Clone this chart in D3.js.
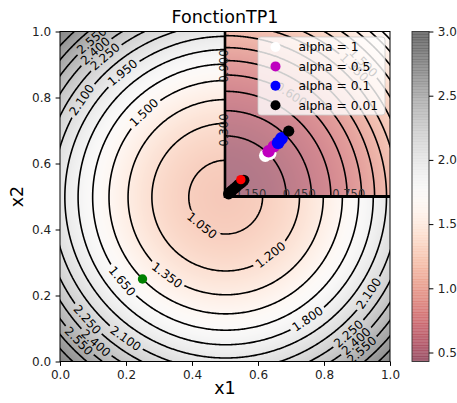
<!DOCTYPE html>
<html>
<head>
<meta charset="utf-8">
<script src="https://cdn.jsdelivr.net/npm/d3@7"></script>
<style>
  body { margin: 0; background: #fff; }
  svg { display: block; font-family: "DejaVu Sans", sans-serif; }
</style>
</head>
<body>
<div id="chart"></div>
<script>
// ---- data ----
const mainLevels = [1.05, 1.2, 1.35, 1.5, 1.65, 1.8, 1.95, 2.1, 2.25, 2.4, 2.55, 2.7, 2.85];
const insetLevels = [0.15, 0.3, 0.45, 0.6, 0.75, 0.9, 1.05, 1.2, 1.35, 1.5, 1.65, 1.8, 1.95, 2.1];
const axisTicks = [0, 0.2, 0.4, 0.6, 0.8, 1.0];
const cbarTicks = [0.5, 1.0, 1.5, 2.0, 2.5, 3.0];
const cbarRange = [0.43, 3.0];
const insetTickX = [0.15, 0.45, 0.75];
const insetTickY = ["0.300", "0.900"];

// function drawn in the main axes: f = base + k * dist^2 to the centre
const fCentre = [0.5, 0.5], fBase = 1.0, fK = 4.0;
// function drawn in the inset: g = k * (u^2 + v^2)
const gK = 1.1;

const ptsAlpha1   = [[0.622, 0.624], [0.637, 0.630]];
const ptsAlpha05  = [[0.632, 0.637], [0.648, 0.652]];
const ptsAlpha01  = [[0.661, 0.663], [0.671, 0.676]];
const ptsAlpha001 = [[0.511, 0.508], [0.516, 0.514], [0.522, 0.519], [0.528, 0.524], [0.534, 0.529],
                     [0.540, 0.535], [0.546, 0.539], [0.552, 0.544], [0.557, 0.549], [0.693, 0.698]];
const ptsRed   = [[0.548, 0.551]];
const ptsGreen = [[0.25, 0.25]];

const legendNames = ["alpha = 1", "alpha = 0.5", "alpha = 0.1", "alpha = 0.01"];
const legendColors = ["#ffffff", "#bf00bf", "#0000ff", "#000000"];

// label placement (level, angle in degrees around the minimum)
const mainLabelAt = [
  [2.55, 130.5], [2.4, 131.7], [2.25, 130.6], [2.1, 146], [1.95, 129.6], [1.5, 134],
  [1.65, 219.5], [1.35, 233.6], [1.05, 231.5], [2.25, 221.8], [2.4, 228.6], [2.55, 224.7], [2.1, 235],
  [1.2, -52], [1.8, -56], [2.1, -34], [2.25, -48], [2.4, -47.8], [2.55, -48.3]
];
const insetLabelAt = [[0.6, 57], [1.35, 45], [1.5, 44]];

const W = 457, H = 403;
const alpha = 0.53;
const mainCmap = [0.2, 3.0];
const insetCmap = [0.0, 4.0];

const x = d3.scaleLinear().domain([0, 1]).range([60, 390]);
const y = d3.scaleLinear().domain([0, 1]).range([361.5, 31.5]);
const ix = d3.scaleLinear().domain([0, 1]).range([x(0.5), x(1)]);
const iy = d3.scaleLinear().domain([0, 1]).range([y(0.5), y(1)]);
const cb = d3.scaleLinear().domain(cbarRange).range([361.5, 31.5]);

const f = (a, b) => fBase + fK * ((a - fCentre[0]) ** 2 + (b - fCentre[1]) ** 2);
const g = (u, v) => gK * (u * u + v * v);
const gImg = (u, v) => u * u + v * v;

function blend(c) {
  const r = d3.rgb(c);
  return [r.r * alpha + 255 * (1 - alpha), r.g * alpha + 255 * (1 - alpha), r.b * alpha + 255 * (1 - alpha)];
}

const svg = d3.select("#chart").append("svg").attr("width", W).attr("height", H);
const defs = svg.append("defs");

function heatImage(fn, dom, xs, ys) {
  const tOf = d3.scaleLinear().domain(dom).range([0, 1]).clamp(true);
  const x0 = Math.min(...xs.range()), x1 = Math.max(...xs.range());
  const y0 = Math.min(...ys.range()), y1 = Math.max(...ys.range());
  const w = Math.round(x1 - x0), h = Math.round(y1 - y0);
  const cv = document.createElement("canvas");
  cv.width = w; cv.height = h;
  const ctx = cv.getContext("2d");
  const img = ctx.createImageData(w, h);
  for (let j = 0; j < h; j++) {
    for (let i = 0; i < w; i++) {
      const v = fn(xs.invert(x0 + (i + 0.5) * (x1 - x0) / w), ys.invert(y0 + (j + 0.5) * (y1 - y0) / h));
      const c = blend(d3.interpolateRdGy(tOf(v)));
      const k = (j * w + i) * 4;
      img.data[k] = c[0]; img.data[k + 1] = c[1]; img.data[k + 2] = c[2]; img.data[k + 3] = 255;
    }
  }
  ctx.putImageData(img, 0, 0);
  svg.append("image").attr("x", x0).attr("y", y0).attr("width", x1 - x0).attr("height", y1 - y0)
    .attr("preserveAspectRatio", "none").attr("href", cv.toDataURL());
}

function contourPaths(fn, levels, xs, ys, clipId, maskId) {
  const n = 260, lo = -0.03, hi = 1.03;
  const vals = new Float64Array(n * n);
  const at = k => lo + (hi - lo) * k / (n - 1);
  for (let j = 0; j < n; j++)
    for (let i = 0; i < n; i++) vals[j * n + i] = fn(at(i), at(n - 1 - j));
  const cs = d3.contours().size([n, n]).thresholds(levels)(vals);
  const path = d3.geoPath(d3.geoTransform({
    point(px, py) { this.stream.point(xs(at(px)), ys(at(n - 1 - py))); }
  }));
  const gC = svg.append("g").attr("clip-path", `url(#${clipId})`)
    .append("g").attr("mask", `url(#${maskId})`);
  gC.selectAll("path").data(cs).join("path")
    .attr("d", path).attr("fill", "none").attr("stroke", "#000").attr("stroke-width", 1.6);
}

function addLabels(list, radiusOf, cx, cy, xs, maskId, clipId) {
  const mask = defs.append("mask").attr("id", maskId).attr("maskUnits", "userSpaceOnUse")
    .attr("x", 0).attr("y", 0).attr("width", W).attr("height", H);
  mask.append("rect").attr("width", W).attr("height", H).attr("fill", "#fff");
  const pxPerUnit = Math.abs(xs(1) - xs(0));
  const items = list.map(([lev, ang]) => {
    const r = radiusOf(lev) * pxPerUnit;
    const a = ang * Math.PI / 180;
    let rot = -(ang + 90);
    rot = ((rot % 360) + 360) % 360;
    if (rot > 90 && rot <= 270) rot -= 180;
    if (rot > 270) rot -= 360;
    return { lev, px: cx + r * Math.cos(a), py: cy - r * Math.sin(a), rot };
  });
  return () => {
    const t = svg.append("g").attr("clip-path", `url(#${clipId})`)
      .selectAll("text").data(items).join("text")
      .attr("transform", d => `translate(${d.px},${d.py}) rotate(${d.rot})`)
      .attr("text-anchor", "middle").attr("dy", "0.36em")
      .attr("font-size", 12).attr("fill", "#000")
      .text(d => d3.format(".3f")(d.lev));
    t.each(function (d) {
      const len = this.getComputedTextLength();
      mask.append("rect").attr("x", -len / 2 - 3).attr("y", -5)
        .attr("width", len + 6).attr("height", 10).attr("fill", "#000")
        .attr("transform", `translate(${d.px},${d.py}) rotate(${d.rot})`);
    });
  };
}

defs.append("clipPath").attr("id", "clipMain").append("rect")
  .attr("x", 60).attr("y", 31.5).attr("width", 330).attr("height", 330);
defs.append("clipPath").attr("id", "clipInset").append("rect")
  .attr("x", ix(0)).attr("y", iy(1)).attr("width", ix(1) - ix(0)).attr("height", iy(0) - iy(1));

// ---- main axes ----
heatImage(f, mainCmap, x, y);
const mainLabels = addLabels(mainLabelAt, lev => Math.sqrt((lev - fBase) / fK),
  x(fCentre[0]), y(fCentre[1]), x, "maskMain", "clipMain");
contourPaths(f, mainLevels, x, y, "clipMain", "maskMain");
mainLabels();

// ---- inset ----
heatImage(gImg, insetCmap, ix, iy);
const insetLabels = addLabels(insetLabelAt, lev => Math.sqrt(lev / gK),
  ix(0), iy(0), ix, "maskInset", "clipInset");
contourPaths(g, insetLevels, ix, iy, "clipInset", "maskInset");
insetLabels();

// inset edge labels
const edge = svg.append("g").attr("fill", "#333").attr("font-size", 11.5);
edge.selectAll("text.ex").data(insetTickX).join("text").attr("class", "ex")
  .attr("x", d => ix(d)).attr("y", iy(0) + 1).attr("text-anchor", "middle")
  .text(d => d3.format(".3f")(d));
edge.selectAll("text.ey").data(insetTickY).join("text").attr("class", "ey")
  .attr("transform", (d, i) => `translate(${ix(0) + 2.5},${[130, 66][i]}) rotate(-90)`)
  .attr("text-anchor", "middle").text(d => d);

// inset spines (left / bottom)
svg.append("line").attr("x1", ix(0)).attr("x2", ix(1)).attr("y1", iy(0)).attr("y2", iy(0))
  .attr("stroke", "#000").attr("stroke-width", 2.8);
svg.append("line").attr("x1", ix(0)).attr("x2", ix(0)).attr("y1", iy(0) + 1.4).attr("y2", iy(1))
  .attr("stroke", "#000").attr("stroke-width", 2.6);

// legend
const lg = svg.append("g").attr("transform", "translate(258,37)");
lg.append("rect").attr("width", 127).attr("height", 78).attr("rx", 3)
  .attr("fill", "#fff").attr("fill-opacity", 0.8).attr("stroke", "#ccc").attr("stroke-opacity", 0.8);
legendNames.forEach((name, i) => {
  const row = lg.append("g").attr("transform", `translate(0,${10 + i * 19.4})`);
  row.append("circle").attr("cx", 17.5).attr("r", 5).attr("fill", legendColors[i]);
  row.append("text").attr("x", 40.5).attr("dy", "0.36em").attr("font-size", 12.3).attr("fill", "#000").text(name);
});

// points
const pts = svg.append("g");
function dots(data, col, r) {
  pts.append("g").selectAll("circle").data(data).join("circle")
    .attr("cx", d => x(d[0])).attr("cy", d => y(d[1])).attr("r", r).attr("fill", col);
}
dots(ptsAlpha1, legendColors[0], 6.3);
dots(ptsAlpha05, legendColors[1], 6.2);
dots(ptsAlpha01, legendColors[2], 6.4);
dots(ptsAlpha001, legendColors[3], 5.6);
dots(ptsRed, "#ff0000", 4.7);
dots(ptsGreen, "#008000", 4.7);

// main spines and axes
svg.append("rect").attr("x", 60).attr("y", 31.5).attr("width", 330).attr("height", 330)
  .attr("fill", "none").attr("stroke", "#000").attr("stroke-width", 1);

const fmt = d3.format(".1f");
const ax = svg.append("g").attr("transform", "translate(0,361.5)")
  .call(d3.axisBottom(x).tickValues(axisTicks).tickFormat(fmt).tickSize(4.4).tickPadding(4.4));
const ay = svg.append("g").attr("transform", "translate(60,0)")
  .call(d3.axisLeft(y).tickValues(axisTicks).tickFormat(fmt).tickSize(4.4).tickPadding(4.4));
[ax, ay].forEach(a => {
  a.select(".domain").remove();
  a.selectAll("text").attr("font-size", 12).attr("font-family", "DejaVu Sans").attr("fill", "#222");
  a.selectAll("line").attr("stroke", "#000");
});

// colorbar
const nSeg = 120;
const cbg = svg.append("g");
for (let i = 0; i < nSeg; i++) {
  const v0 = cbarRange[0] + (cbarRange[1] - cbarRange[0]) * i / nSeg;
  const v1 = cbarRange[0] + (cbarRange[1] - cbarRange[0]) * (i + 1) / nSeg;
  cbg.append("rect").attr("x", 412).attr("width", 17)
    .attr("y", cb(v1)).attr("height", cb(v0) - cb(v1) + 0.4)
    .attr("fill", d3.interpolateRdGy((i + 0.5) / nSeg)).attr("fill-opacity", alpha + 0.07);
}
svg.append("rect").attr("x", 412).attr("y", 31.5).attr("width", 17).attr("height", 330)
  .attr("fill", "none").attr("stroke", "#333").attr("stroke-width", 0.9);
const ac = svg.append("g").attr("transform", "translate(429,0)")
  .call(d3.axisRight(cb).tickValues(cbarTicks).tickFormat(fmt).tickSize(4.4).tickPadding(4.4));
ac.select(".domain").remove();
ac.selectAll("text").attr("font-size", 12).attr("font-family", "DejaVu Sans").attr("fill", "#222");
ac.selectAll("line").attr("stroke", "#000");

// titles
svg.append("text").attr("x", 225).attr("y", 23).attr("text-anchor", "middle")
  .attr("font-size", 17.5).attr("fill", "#000").text("FonctionTP1");
svg.append("text").attr("x", 225).attr("y", 394).attr("text-anchor", "middle")
  .attr("font-size", 17.5).attr("fill", "#000").text("x1");
svg.append("text").attr("transform", "translate(23,196.5) rotate(-90)").attr("text-anchor", "middle")
  .attr("font-size", 17.5).attr("fill", "#000").text("x2");
</script>
</body>
</html>
